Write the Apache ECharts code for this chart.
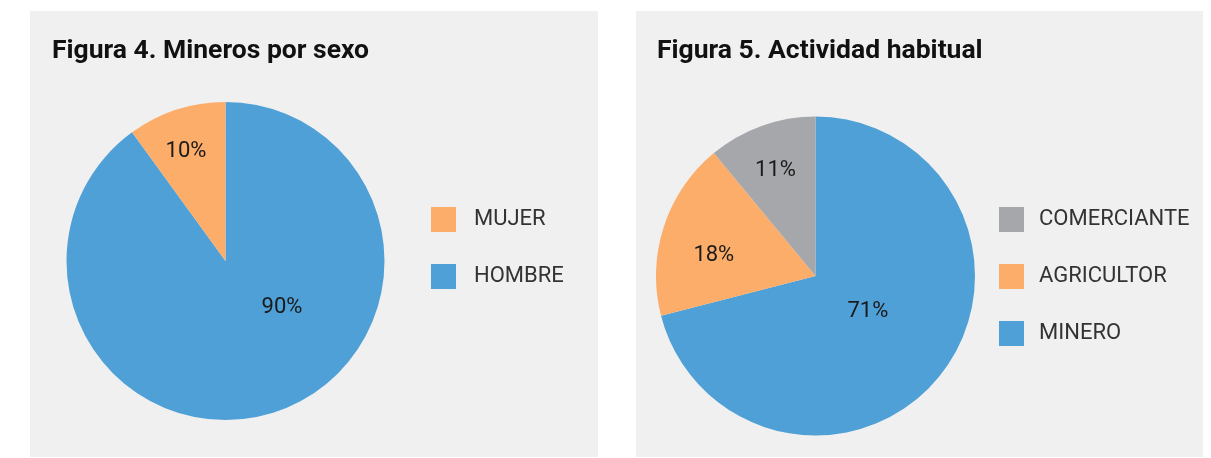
<!DOCTYPE html>
<html>
<head>
    <meta charset="UTF-8">
    <script type="text/javascript" src="https://cdn.jsdelivr.net/npm/echarts@6/dist/echarts.min.js"></script>
</head>
<style>
    body { margin: 0; padding: 0; background: #ffffff; }
    .panel { position: absolute; top: 11px; height: 446px; background: #f0f0f0; }
</style>
<body>
<div id="fig4" class="panel" style="left: 30px; width: 568px;"></div>
<div id="fig5" class="panel" style="left: 636px; width: 567px;"></div>
<script>
    // Figura 4
    var sexoNombres = ['HOMBRE', 'MUJER']
    var sexoValores = [90, 10]
    var sexoLeyenda = ['MUJER', 'HOMBRE']
    // Figura 5
    var actividadNombres = ['MINERO', 'AGRICULTOR', 'COMERCIANTE']
    var actividadValores = [71, 18, 11]
    var actividadLeyenda = ['COMERCIANTE', 'AGRICULTOR', 'MINERO']

    var colores = {
        'HOMBRE': '#4fa0d7',
        'MINERO': '#4fa0d7',
        'MUJER': '#fbad69',
        'AGRICULTOR': '#fbad69',
        'COMERCIANTE': '#a6a7ab'
    }
    var fuente = 'Roboto, "Noto Sans", sans-serif'

    function armarDatos(nombres, valores) {
        var out = []
        for (var i = 0; i < nombres.length; i++) {
            out.push({name: nombres[i], value: valores[i], itemStyle: {color: colores[nombres[i]]}})
        }
        return out
    }

    // ajustes: desplazamiento de cada etiqueta respecto de la posicion 'inside'
    function armarOpcion(titulo, tituloLeft, nombres, valores, leyenda, centro, radio, leyendaLeft, gapTexto, ajustes) {
        return {
            animation: false,
            title: {
                text: titulo,
                left: tituloLeft,
                top: 22,
                textStyle: {fontFamily: fuente, fontSize: 26.5, fontWeight: 'bold', color: '#111111'}
            },
            legend: {
                data: leyenda,
                orient: 'vertical',
                left: leyendaLeft,
                top: 191,
                itemWidth: 25,
                itemHeight: 25,
                itemGap: 32,
                icon: 'rect',
                selectedMode: false,
                textStyle: {fontFamily: fuente, fontSize: 22, color: '#333333', padding: [0, 0, 0, gapTexto]}
            },
            series: [{
                type: 'pie',
                center: centro,
                radius: radio,
                startAngle: 90,
                clockwise: true,
                silent: true,
                data: armarDatos(nombres, valores),
                itemStyle: {borderWidth: 0},
                label: {
                    show: true,
                    position: 'inside',
                    formatter: '{c}%',
                    fontFamily: fuente,
                    fontSize: 22,
                    color: '#1a1a1a'
                },
                labelLine: {show: false},
                labelLayout: function (params) {
                    var a = ajustes[params.dataIndex]
                    return {dx: a[0], dy: a[1]}
                }
            }]
        }
    }

    var chart4 = echarts.init(document.getElementById('fig4'))
    chart4.setOption(armarOpcion('Figura 4. Mineros por sexo', 17, sexoNombres, sexoValores, sexoLeyenda,
        [195.5, 250], 159, 396, 13, [[31, -32], [-14, -31]]))

    var chart5 = echarts.init(document.getElementById('fig5'))
    chart5.setOption(armarOpcion('Figura 5. Actividad habitual', 16, actividadNombres, actividadValores, actividadLeyenda,
        [179.5, 265], 159.5, 358, 10, [[-13, -15], [-23, 5], [-12, -28]]))
</script>
</body>
</html>
